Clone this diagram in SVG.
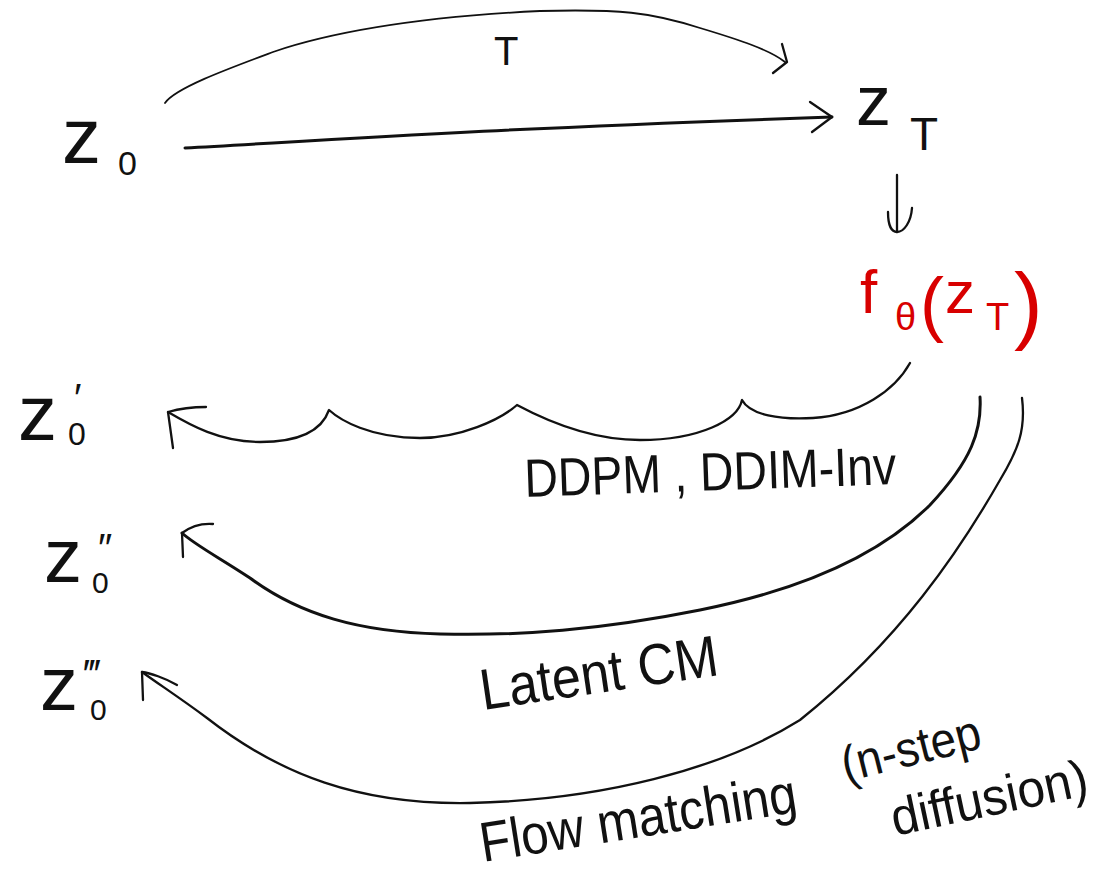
<svg xmlns="http://www.w3.org/2000/svg" width="1114" height="885" viewBox="0 0 1114 885">
<style>
  .t { font-family: "Liberation Sans", "DejaVu Sans", sans-serif; fill: #111; }
  .red { fill: #d80000; }
  .c { fill: none; stroke: #111; stroke-linecap: round; stroke-linejoin: round; }
  .thin { stroke-width: 1.8; }
  .mid { stroke-width: 2.3; }
  .thick { stroke-width: 3; }
</style>
<rect width="1114" height="885" fill="#ffffff"/>

<g id="connectors">
  <!-- top curved arrow labelled T -->
  <path class="c thin" d="M165,103 C175,88 230,68 273,52 C320,36 400,18 540,11 C620,9 650,12 700,28 C740,40 770,50 785,62"/>
  <path class="c mid" d="M782,44 L787,62 L773,73"/>
  <!-- main arrow z0 -> zT -->
  <path class="c thick" d="M185,148 C300,142 450,130 832,117"/>
  <path class="c mid" d="M810,102 L832,117 L812,132"/>
  <!-- zT -> f_theta -->
  <path class="c mid" d="M897,175 L897,232"/>
  <path class="c mid" d="M888,212 C888,226 892,232 897,232 C904,232 911,222 912,208"/>
  <!-- DDPM, DDIM-Inv scalloped arrow -->
  <path class="c mid" d="M910,363 C895,390 860,415 813,418 C780,420 750,415 742,400 C738,420 700,440 640,440 C590,440 545,420 517,405 C500,420 460,438 420,438 C370,438 340,420 329,410 C322,430 300,442 260,442 C220,442 190,425 168,412"/>
  <path class="c mid" d="M206,407 C190,407 175,410 168,412 L173,448"/>
  <!-- Latent CM arrow -->
  <path class="c thick" d="M980,397 C982,430 972,460 930,505 C880,555 800,590 700,610 C600,630 520,636 440,634 C360,632 300,615 250,578 C220,558 195,545 182,533"/>
  <path class="c mid" d="M213,524 C200,523 190,527 182,533 L183,557"/>
  <!-- Flow matching arrow -->
  <path class="c mid" d="M1022,398 C1026,430 1018,450 1000,480 C960,550 900,640 800,720 C720,770 600,800 470,803 C360,805 280,775 207,718 C180,698 160,685 142,672"/>
  <path class="c mid" d="M177,685 C165,678 150,673 142,672 L143,700"/>
</g>

<g id="z0">
  <text class="t" x="62" y="163" font-size="78">z</text>
  <text class="t" x="118" y="175" font-size="34">0</text>
</g>

<g id="zT">
  <text class="t" x="856" y="125" font-size="70">z</text>
  <text class="t" x="910" y="150" font-size="46">T</text>
</g>

<g id="f_theta">
  <text class="t red" x="860" y="313" font-size="62">f</text>
  <text class="t red" x="895" y="330" font-size="38">θ</text>
  <text class="t red" x="920" y="328" font-size="72">(</text>
  <text class="t red" x="945" y="313" font-size="60">z</text>
  <text class="t red" x="986" y="330" font-size="38">T</text>
  <text class="t red" x="1014" y="333" font-size="86">)</text>
</g>

<g id="z0_prime1">
  <text class="t" x="18" y="440" font-size="78">z</text>
  <text class="t" x="68" y="445" font-size="32">0</text>
  <text class="t" x="74" y="412" font-size="40">′</text>
</g>

<g id="z0_prime2">
  <text class="t" x="44" y="582" font-size="76">z</text>
  <text class="t" x="92" y="593" font-size="30">0</text>
  <text class="t" x="98" y="562" font-size="40">″</text>
</g>

<g id="z0_prime3">
  <text class="t" x="40" y="710" font-size="76">z</text>
  <text class="t" x="90" y="720" font-size="30">0</text>
  <text class="t" x="86" y="688" font-size="40">‴</text>
</g>

<g id="labels">
  <text class="t" x="494" y="65" font-size="40">T</text>
  <text class="t" x="525" y="497" font-size="54" textLength="372" lengthAdjust="spacingAndGlyphs" transform="rotate(-2 525 497)">DDPM , DDIM-Inv</text>
  <text class="t" x="483" y="710" font-size="58" textLength="240" lengthAdjust="spacingAndGlyphs" transform="rotate(-8.4 483 710)">Latent CM</text>
  <text class="t" x="483" y="862" font-size="56" textLength="320" lengthAdjust="spacingAndGlyphs" transform="rotate(-9 483 862)">Flow matching</text>
  <text class="t" x="846" y="782" font-size="50" textLength="142" lengthAdjust="spacingAndGlyphs" transform="rotate(-14 846 782)">(n-step</text>
  <text class="t" x="895" y="836" font-size="52" textLength="200" lengthAdjust="spacingAndGlyphs" transform="rotate(-12 895 836)">diffusion)</text>
</g>
</svg>
